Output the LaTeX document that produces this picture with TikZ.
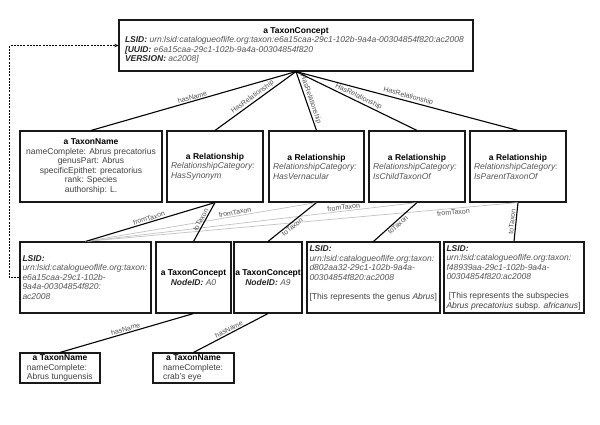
\documentclass[tikz,border=0pt]{standalone}
\usepackage{fontspec}
\setmainfont{Liberation Sans}
\usetikzlibrary{arrows.meta}
\setlength{\parindent}{0pt}
\definecolor{txt}{HTML}{404040}
\definecolor{itc}{HTML}{555555}
\definecolor{lblc}{HTML}{505050}
\definecolor{faintc}{HTML}{C2C2C2}
\newcommand{\ttl}[1]{\noindent\hfill\textbf{\color{black}#1}\hfill\null}
\newcommand{\bitx}[1]{\textbf{\textit{\color{black!85}#1}}}
\newcommand{\itx}[1]{\textit{\color{itc}#1}}
\tikzset{
  box/.style={draw=black!90, line width=1.1pt, fill=white, inner ysep=1pt,
    font=\fontsize{8.5}{9.5}\selectfont, text=txt, align=flush left},
  cbox/.style={box, align=flush center},
  conn/.style={draw=black, line width=1.1pt},
  faintconn/.style={draw=faintc, line width=0.7pt},
  lbl/.style={font=\fontsize{7}{8}\selectfont, text=lblc, sloped, inner sep=1pt},
  dashconn/.style={draw=black, line width=0.9pt, dash pattern=on 2pt off 1.2pt,
    -{Stealth[length=4pt,width=3.5pt]}}
}
\begin{document}
\begin{tikzpicture}[x=1pt,y=-1pt]
\useasboundingbox (0,0) rectangle (600,424);

% ---- row 1
\node[box, inner xsep=6pt, text width=342pt, minimum height=51pt] (top) at (296,45.5) {%
\ttl{a TaxonConcept}\\
\mbox{\bitx{LSID:} \itx{urn:lsid:catalogueoflife.org:taxon:e6a15caa-29c1-102b-9a4a-00304854f820:ac2008}}\\
\mbox{\bitx{[UUID:} \itx{e6a15caa-29c1-102b-9a4a-00304854f820}}\\
\mbox{\bitx{VERSION:} \itx{ac2008]}}};

% ---- row 2
\node[cbox, inner xsep=3pt, text width=136pt, minimum height=71pt] (tn) at (91,166.5) {%
\textbf{\color{black}a TaxonName}\\
nameComplete: Abrus precatorius\\
genusPart: Abrus\\
specificEpithet: precatorius\\
rank: Species\\
authorship: L.};
\node[box, inner xsep=4pt, text width=88pt, minimum height=71pt] (r1) at (215,166.5) {%
\ttl{a Relationship}\\ \itx{RelationshipCategory:}\\ \itx{HasSynonym}};
\node[box, inner xsep=4pt, text width=87pt, minimum height=71pt] (r2) at (316.5,166.5) {%
\ttl{a Relationship}\\ \itx{RelationshipCategory:}\\ \itx{HasVernacular}};
\node[box, inner xsep=4pt, text width=88pt, minimum height=71pt] (r3) at (417,166.5) {%
\ttl{a Relationship}\\ \itx{RelationshipCategory:}\\ \itx{IsChildTaxonOf}};
\node[box, inner xsep=4pt, text width=88pt, minimum height=71pt] (r4) at (518,166.5) {%
\ttl{a Relationship}\\ \itx{RelationshipCategory:}\\ \itx{IsParentTaxonOf}};

% ---- row 3
\node[box, inner xsep=2.5pt, text width=126pt, minimum height=71pt] (l1) at (85.5,277.5) {%
\bitx{LSID:}\\
\mbox{\itx{urn:lsid:catalogueoflife.org:taxon:}}\\
\itx{e6a15caa-29c1-102b-}\\
\itx{9a4a-00304854f820:}\\
\itx{ac2008}};
\node[cbox, inner xsep=2pt, text width=71pt, minimum height=71pt] (a0) at (193.5,277.5) {%
\mbox{\textbf{\color{black}a TaxonConcept}}\\ \bitx{NodeID:} \itx{A0}};
\node[cbox, inner xsep=0.5pt, text width=67pt, minimum height=71pt] (a9) at (268,277.5) {%
\mbox{\textbf{\color{black}a TaxonConcept}}\\ \bitx{NodeID:} \itx{A9}};
\node[box, inner xsep=2.5pt, text width=128pt, minimum height=71pt] (l2) at (373.5,277.5) {%
\bitx{LSID:}\\
\mbox{\itx{urn:lsid:catalogueoflife.org:taxon:}}\\
\itx{d802aa32-29c1-102b-9a4a-}\\
\itx{00304854f820:ac2008}\\[9.5pt]
\mbox{[This represents the genus \textit{Abrus}]}\\
\mbox{}};
\node[box, inner xsep=2.5pt, text width=135pt, minimum height=71pt] (l3) at (514,277.5) {%
\bitx{LSID:}\\
\mbox{\itx{urn:lsid:catalogueoflife.org:taxon:}}\\
\itx{f48939aa-29c1-102b-9a4a-}\\
\itx{00304854f820:ac2008}\\[9.5pt]
\mbox{\ [This represents the subspecies}\\
\mbox{\textit{Abrus precatorius} subsp. \textit{africanus}]}};

% ---- row 4
\node[box, inner xsep=7pt, text width=66pt, minimum height=30pt] (n1) at (60,368) {%
\ttl{a TaxonName}\\ nameComplete:\\ \mbox{Abrus tunguensis}};
\node[box, inner xsep=10pt, text width=61pt, minimum height=30pt] (n2) at (193.5,368) {%
\ttl{a TaxonName}\\ nameComplete:\\ crab's eye};

% ---- connectors
\draw[faintconn] (r2.south) -- node[lbl, above, pos=0.35] {fromTaxon} (l1.north);
\draw[faintconn] (r3.south) -- node[lbl, above, pos=0.22] {fromTaxon} (l1.north);
\draw[faintconn] (r4.south) -- node[lbl, below, pos=0.15] {fromTaxon} (l1.north);

\draw[conn] (top.south) -- node[lbl, above] {hasName} (tn.north);
\draw[conn] (top.south) -- node[lbl, above] {HasRelationship} (r1.north);
\draw[conn] (top.south) -- node[lbl, above] {HasRelationship} (r2.north);
\draw[conn] (top.south) -- node[lbl, above] {HasRelationship} (r3.north);
\draw[conn] (top.south) -- node[lbl, above] {HasRelationship} (r4.north);

\draw[conn] (r1.south) -- node[lbl, above] {fromTaxon} (l1.north);
\draw[conn] (r1.south) -- node[lbl, above] {toTaxon} (a0.north);
\draw[conn] (r2.south) -- node[lbl, below, pos=0.55] {toTaxon} (a9.north);
\draw[conn] (r3.south) -- node[lbl, below] {toTaxon} (l2.north);
\draw[conn] (r4.south) -- node[lbl, above] {toTaxon} (l3.north);

\draw[conn] (a0.south) -- node[lbl, above] {hasName} (n1.north);
\draw[conn] (a9.south) -- node[lbl, above] {hasName} (n2.north);

\draw[dashconn] (l1.west) -- ++(-10,0) |- (top.west);
\end{tikzpicture}
\end{document}
